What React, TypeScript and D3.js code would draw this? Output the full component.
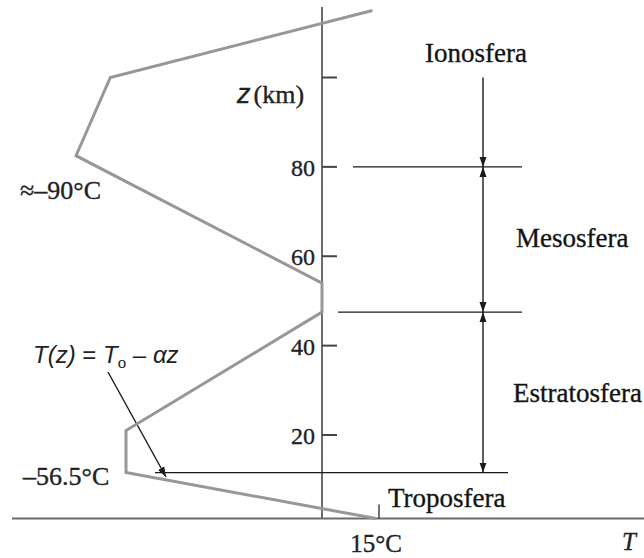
import React from 'react';
import * as d3 from 'd3';

// Temperature profile of the standard atmosphere (schematic)
const profileAltitudes = [115, 100, 82.5, 54, 47.5, 21, 11, 0]; // km
const profileTemps = [14, -67, -90, 0, 0, -56.5, -56.5, 15]; // °C

// Altitude axis ticks
const altitudeTicks = [20, 40, 60, 80, 100];
const altitudeTickLabels = ['20', '40', '60', '80', ''];

// Layer boundaries (km) and names
const tropopause = 11;
const stratopause = 47.5;
const mesopause = 80;
const ionosphereTop = 100;
const layerNames = ['Troposfera', 'Estratosfera', 'Mesosfera', 'Ionosfera'];

// Temperature annotations
const surfaceTemp = 15;
const tempLabels = ['15°C', '–56.5°C', '≈–90°C'];

const W = 644;
const H = 558;
const SERIF = '"Liberation Serif", "Times New Roman", serif';
const SANS = '"Liberation Sans", Arial, sans-serif';

export default function App() {
  // schematic (piecewise) scales
  const x = d3.scaleLinear().domain([-90, -56.5, 0, 15]).range([76, 126, 322, 376]);
  const y = d3.scaleLinear().domain([0, 20, 100]).range([518.5, 435, 77.5]);

  const profile = profileAltitudes.map((z, i) => ({ z, t: profileTemps[i] }));
  const line = d3
    .line<{ z: number; t: number }>()
    .x((d) => x(d.t))
    .y((d) => y(d.z));

  const axisX = x(0);
  const axisTop = y(115.8);
  const ground = y(0);
  const arrowX = 483;

  const ink = '#1a1a1a';
  const axisColor = '#6b6b6b';
  const textStroke = { stroke: '#222', strokeWidth: 0.35 };

  return (
    <svg
      width={W}
      height={H}
      viewBox={`0 0 ${W} ${H}`}
      style={{ position: 'absolute', left: 0, top: 0, background: '#fff' }}
    >
      <defs>
        <marker
          id="arrowEnd"
          markerUnits="userSpaceOnUse"
          markerWidth={10}
          markerHeight={8}
          refX={10}
          refY={4}
          orient="auto"
        >
          <path d="M0,0.5 L10,4 L0,7.5 Z" fill={ink} />
        </marker>
        <marker
          id="arrowStart"
          markerUnits="userSpaceOnUse"
          markerWidth={10}
          markerHeight={8}
          refX={0}
          refY={4}
          orient="auto"
        >
          <path d="M10,0.5 L0,4 L10,7.5 Z" fill={ink} />
        </marker>
      </defs>

      {/* temperature axis */}
      <line x1={12} x2={W} y1={ground} y2={ground} stroke={axisColor} strokeWidth={2} />
      {/* altitude axis */}
      <line x1={axisX} x2={axisX} y1={axisTop} y2={ground} stroke={axisColor} strokeWidth={2} />

      {/* altitude ticks */}
      {altitudeTicks.map((z, i) => (
        <g key={z}>
          <line x1={axisX} x2={axisX + 15} y1={y(z)} y2={y(z)} stroke="#444" strokeWidth={2} />
          {altitudeTickLabels[i] && (
            <text
              x={axisX - 7}
              y={y(z) + 9}
              textAnchor="end"
              fontFamily={SERIF}
              fontSize={24}
              fill="#222"
              {...textStroke}
            >
              {altitudeTickLabels[i]}
            </text>
          )}
        </g>
      ))}

      {/* z (km) axis title */}
      <text x={237} y={103} fontFamily={SERIF} fontSize={26} fill="#222" {...textStroke}>
        <tspan fontFamily={SANS} fontStyle="italic" fontSize={27}>z</tspan>
        <tspan dx={3}>(km)</tspan>
      </text>

      {/* surface temperature tick */}
      <line x1={x(surfaceTemp) + 3} x2={x(surfaceTemp) + 3} y1={ground - 14} y2={ground} stroke="#444" strokeWidth={1.5} />
      <text x={x(surfaceTemp)} y={552} textAnchor="middle" fontFamily={SERIF} fontSize={25} fill="#222" {...textStroke}>
        {tempLabels[0]}
      </text>
      <text x={622} y={550} fontFamily={SERIF} fontStyle="italic" fontSize={25} fill="#222" {...textStroke}>
        T
      </text>

      {/* layer boundaries */}
      <line x1={353} x2={522} y1={y(mesopause)} y2={y(mesopause)} stroke={ink} strokeWidth={1.4} />
      <line x1={338} x2={522} y1={y(stratopause)} y2={y(stratopause)} stroke={ink} strokeWidth={1.4} />
      <line
        x1={508}
        x2={155}
        y1={y(tropopause)}
        y2={y(tropopause)}
        stroke={ink}
        strokeWidth={1.4}
      />

      {/* layer extent arrows */}
      <line
        x1={arrowX}
        x2={arrowX}
        y1={y(ionosphereTop)}
        y2={y(mesopause)}
        stroke={ink}
        strokeWidth={1.4}
        markerEnd="url(#arrowEnd)"
      />
      <line
        x1={arrowX}
        x2={arrowX}
        y1={y(mesopause)}
        y2={y(stratopause)}
        stroke={ink}
        strokeWidth={1.4}
        markerStart="url(#arrowStart)"
        markerEnd="url(#arrowEnd)"
      />
      <line
        x1={arrowX}
        x2={arrowX}
        y1={y(stratopause)}
        y2={y(tropopause)}
        stroke={ink}
        strokeWidth={1.4}
        markerStart="url(#arrowStart)"
        markerEnd="url(#arrowEnd)"
      />

      {/* lapse-rate annotation arrow */}
      <line x1={108} y1={372} x2={166} y2={477} stroke={ink} strokeWidth={1.4} markerEnd="url(#arrowEnd)" />

      {/* temperature profile */}
      <path d={line(profile) ?? ''} fill="none" stroke="#979797" strokeWidth={3} strokeLinejoin="miter" />

      {/* layer names */}
      <text x={476} y={62} textAnchor="middle" fontFamily={SERIF} fontSize={27} fill="#111" {...textStroke}>
        {layerNames[3]}
      </text>
      <text x={516} y={247} fontFamily={SERIF} fontSize={27} fill="#111" {...textStroke}>
        {layerNames[2]}
      </text>
      <text x={513} y={402} fontFamily={SERIF} fontSize={27} fill="#111" {...textStroke}>
        {layerNames[1]}
      </text>
      <text x={388} y={507} fontFamily={SERIF} fontSize={27} fill="#111" {...textStroke}>
        {layerNames[0]}
      </text>

      {/* temperature annotations */}
      <text x={20} y={199} fontFamily={SERIF} fontSize={26} fill="#222" {...textStroke}>
        {tempLabels[2]}
      </text>
      <text x={23} y={485} fontFamily={SERIF} fontSize={26} fill="#222" {...textStroke}>
        {tempLabels[1]}
      </text>

      {/* lapse-rate formula */}
      <text x={33} y={363} fontFamily={SANS} fontStyle="italic" fontSize={24} fill="#222">
        <tspan>T(z)</tspan>
        <tspan fontStyle="normal"> = </tspan>
        <tspan>T</tspan>
        <tspan fontFamily={SERIF} fontStyle="normal" fontSize={17} dy={5}>o</tspan>
        <tspan fontStyle="normal" dy={-5}> – </tspan>
        <tspan>αz</tspan>
      </text>
    </svg>
  );
}
